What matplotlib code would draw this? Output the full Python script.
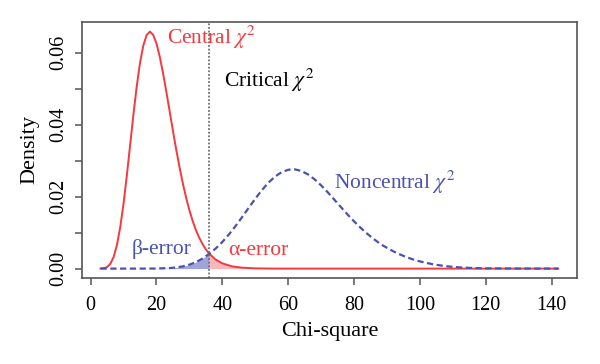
import numpy as np
import matplotlib
matplotlib.use("Agg")
import matplotlib.pyplot as plt

# central chi-square density (df = 20)
central_x = [3, 4, 5, 6, 7, 8, 9, 10, 11, 12, 13, 14, 15, 16, 17, 18, 19, 20,
             21, 22, 23, 24, 25, 26, 27, 28, 29, 30, 31, 32, 33, 34, 35, 36,
             38, 40, 43, 46, 50, 55, 60, 142]
central_y = [0.0000118, 0.000095, 0.000431, 0.00135, 0.00328, 0.00662,
             0.01158, 0.01813, 0.02593, 0.03442, 0.04291, 0.05070, 0.05723,
             0.06204, 0.06494, 0.06588, 0.06497, 0.06256, 0.05886, 0.05427,
             0.04911, 0.04368, 0.03826, 0.03303, 0.02814, 0.02367, 0.01969,
             0.01620, 0.01320, 0.01065, 0.00853, 0.00677, 0.00533, 0.00416,
             0.00249, 0.00145, 0.00062, 0.00025, 0.00007, 0.00001, 0.0, 0.0]

# noncentral chi-square density
noncentral_x = [3, 10, 16, 20, 24, 26, 28, 30, 32, 34, 36, 38, 40, 42, 44, 46,
                48, 50, 52, 54, 56, 58, 60, 62, 64, 66, 68, 70, 72, 74, 76, 78,
                80, 82, 84, 86, 88, 90, 92, 94, 96, 98, 100, 104, 108, 112,
                116, 120, 130, 142]
noncentral_y = [0.0, 0.0, 0.000001, 0.000026, 0.00015, 0.00032, 0.00062,
                0.00110, 0.00180, 0.00280, 0.00410, 0.00560, 0.00741, 0.00950,
                0.01183, 0.01433, 0.01690, 0.01944, 0.02181, 0.02390, 0.02560,
                0.02681, 0.02748, 0.02759, 0.02714, 0.02619, 0.02482, 0.02313,
                0.02121, 0.01916, 0.01709, 0.01505, 0.01312, 0.01132, 0.00968,
                0.00821, 0.00683, 0.00576, 0.00476, 0.00390, 0.00315, 0.00252,
                0.00199, 0.00118, 0.00065, 0.00034, 0.00016, 0.00007, 0.00001,
                0.0]

critical = 36.0

y_ticks = [0.0, 0.01, 0.02, 0.03, 0.04, 0.05, 0.06]
y_ticklabels = ["0.00", "", "0.02", "", "0.04", "", "0.06"]
x_ticks = [0, 20, 40, 60, 80, 100, 120, 140]

red = "#f6383f"
blue = "#4a52b0"

plt.rcParams["font.family"] = ["Liberation Serif", "DejaVu Serif"]
plt.rcParams["mathtext.fontset"] = "stix"

fig = plt.figure(figsize=(6, 3.64), dpi=100)
ax = fig.add_axes([0.137, 0.236, 0.824, 0.704])

cx = np.array(central_x)
cy = np.array(central_y)
nx = np.array(noncentral_x)
ny = np.array(noncentral_y)

# shaded error regions
ax.fill_between(nx, 0, ny, where=nx <= critical, color="#959bd8", alpha=0.9,
                linewidth=0)
ax.fill_between(cx, 0, cy, where=cx >= critical, color="#f8b0b5", alpha=0.9,
                linewidth=0)

ax.plot(cx, cy, color=red, lw=1.4)
ax.plot(nx, ny, color=blue, lw=1.6, linestyle=(0, (2.8, 1.6)))
ax.axvline(critical, color="#6e6e6e", lw=1.3, linestyle=(0, (1, 1)))

ax.text(23.2, 0.0642, r"Central $\chi^2$", color=red, fontsize=15.5,
        ha="left", va="center")
ax.text(40.4, 0.0522, r"Critical $\chi^2$", color="black", fontsize=15.5,
        ha="left", va="center")
ax.text(74.0, 0.0240, r"Noncentral $\chi^2$", color=blue, fontsize=15.5,
        ha="left", va="center")
ax.text(12.3, 0.0054, "β-error", color=blue, fontsize=15.5,
        ha="left", va="center")
ax.text(41.6, 0.0050, "α-error", color=red, fontsize=15.5,
        ha="left", va="center")

ax.set_xlim(-2.56, 147.56)
ax.set_ylim(-0.00264, 0.0686)
ax.set_xticks(x_ticks)
ax.set_yticks(y_ticks)
ax.set_yticklabels(y_ticklabels, rotation=90, va="center")

for s in ax.spines.values():
    s.set_color("#555555")
    s.set_linewidth(1.2)
ax.tick_params(direction="out", length=4.8, width=1.1, color="#555555",
               labelsize=14.5, labelcolor="black")
ax.tick_params(axis="x", pad=8)
ax.tick_params(axis="y", pad=5)

ax.set_xlabel("Chi-square", fontsize=16, labelpad=5)
ax.set_ylabel("Density", fontsize=16, labelpad=7)

plt.savefig("out.png", dpi=100)
plt.close()
